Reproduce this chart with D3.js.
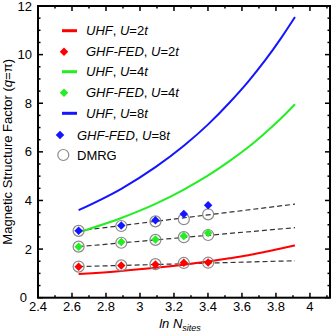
<!DOCTYPE html>
<html>
<head>
<meta charset="utf-8">
<script src="https://cdn.jsdelivr.net/npm/d3@7"></script>
<style>
  body { margin: 0; background: #fff; }
  svg { display: block; font-family: Arial, "Liberation Sans", sans-serif; }
  .tick-label { font-size: 13px; }
</style>
</head>
<body>
<svg id="chart" width="332" height="336"></svg>
<script>
// ln N_sites for the UHF curves (N = 14 ... 50)
const lnN = [2.639, 2.890, 3.091, 3.258, 3.401, 3.526, 3.638, 3.738, 3.829, 3.912]
const uhfU2 = [0.97, 1.10, 1.23, 1.36, 1.49, 1.62, 1.75, 1.89, 2.02, 2.15]
const uhfU4 = [2.69, 3.28, 3.86, 4.45, 5.03, 5.62, 6.20, 6.79, 7.37, 7.96]
const uhfU8 = [3.60, 4.48, 5.37, 6.25, 7.13, 8.02, 8.90, 9.78, 10.67, 11.55]

// ln N_sites for the GHF-FED / DMRG points (N = 14, 18, 22, 26, 30)
const lnNpts = [2.639, 2.890, 3.091, 3.258, 3.401]
const ghfU2 = [1.27, 1.32, 1.37, 1.44, 1.45]
const ghfU4 = [2.10, 2.29, 2.39, 2.54, 2.66]
const ghfU8 = [2.75, 2.97, 3.19, 3.44, 3.80]
const dmrgU2 = [1.28, 1.33, 1.38, 1.43, 1.44]
const dmrgU4 = [2.10, 2.26, 2.38, 2.49, 2.58]
const dmrgU8 = [2.75, 2.95, 3.14, 3.23, 3.43]

// dashed extrapolation lines: [start, end] in x and y
const fitX = [2.639, 3.912]
const fitU2 = [1.28, 1.52]
const fitU4 = [2.10, 2.88]
const fitU8 = [2.75, 3.85]

const xTicks = [2.4, 2.6, 2.8, 3, 3.2, 3.4, 3.6, 3.8, 4]
const yTicks = [0, 2, 4, 6, 8, 10, 12]

const RED = '#ff0000'
const GREEN = '#22ee22'
const BLUE = '#1515ff'

const svg = d3.select('#chart')
const L = 38, T = 6, R = 330, B = 297.7

const x = d3.scaleLinear().domain([2.4, 4.118]).range([L, R])
const y = d3.scaleLinear().domain([0, 12]).range([B, T])

// minor + major ticks on all four sides, pointing inward
const g = svg.append('g')
const xMinor = d3.range(2.5, 4.11, 0.1).filter(v => Math.abs(v * 5 - Math.round(v * 5)) > 1e-6)
const yMinor = d3.range(0.5, 12, 0.5).filter(v => v % 2 !== 0)

function tickLines (vals, len, horiz) {
  vals.forEach(v => {
    if (horiz) {
      g.append('line').attr('x1', x(v)).attr('x2', x(v)).attr('y1', B).attr('y2', B - len)
        .attr('stroke', '#000').attr('stroke-width', 1.5)
      g.append('line').attr('x1', x(v)).attr('x2', x(v)).attr('y1', T).attr('y2', T + len)
        .attr('stroke', '#000').attr('stroke-width', 1.5)
    } else {
      g.append('line').attr('y1', y(v)).attr('y2', y(v)).attr('x1', L).attr('x2', L + len)
        .attr('stroke', '#000').attr('stroke-width', 1.5)
      g.append('line').attr('y1', y(v)).attr('y2', y(v)).attr('x1', R).attr('x2', R - len)
        .attr('stroke', '#000').attr('stroke-width', 1.5)
    }
  })
}
tickLines(xTicks, 5, true)
tickLines(xMinor, 2.5, true)
tickLines(yTicks, 5, false)
tickLines(yMinor, 2.5, false)

svg.selectAll('text.xt').data(xTicks).enter().append('text')
  .attr('class', 'tick-label').attr('x', d => x(d)).attr('y', B + 13)
  .attr('text-anchor', 'middle').text(d => d)
// the "0" sits a little further left so it clears the "2.4" below it
svg.selectAll('text.yt').data(yTicks).enter().append('text')
  .attr('class', 'tick-label').attr('x', d => d === 0 ? L - 11 : L - 6).attr('y', d => y(d) + 4.5)
  .attr('text-anchor', 'end').text(d => d)

// axis titles
const xl = svg.append('text').attr('x', 180).attr('y', 328)
  .attr('text-anchor', 'middle').style('font-size', '13px').style('font-style', 'italic')
xl.append('tspan').text('ln N')
xl.append('tspan').attr('dy', 3).style('font-size', '9px').text('sites')

const yl = svg.append('text').attr('transform', `translate(12,${(T + B) / 2}) rotate(-90)`)
  .attr('text-anchor', 'middle').style('font-size', '13px')
yl.append('tspan').text('Magnetic  Structure Factor (')
yl.append('tspan').style('font-style', 'italic').text('q')
yl.append('tspan').text('=π)')

// plot contents
const line = d3.line().x(d => x(d[0])).y(d => y(d[1])).curve(d3.curveMonotoneX)
const plot = svg.append('g')

;[fitU2, fitU4, fitU8].forEach(f => {
  plot.append('path').attr('d', d3.line().x(d => x(d[0])).y(d => y(d[1]))(d3.zip(fitX, f)))
    .attr('fill', 'none').attr('stroke', '#333').attr('stroke-width', 1.2)
    .attr('stroke-dasharray', '5,3')
})

;[[uhfU2, RED], [uhfU4, GREEN], [uhfU8, BLUE]].forEach(([s, c]) => {
  plot.append('path').attr('d', line(d3.zip(lnN, s)))
    .attr('fill', 'none').attr('stroke', c).attr('stroke-width', 2)
})

const diamond = d3.symbol().type(d3.symbolDiamond2).size(46)

function dmrgCircles (sel, data) {
  sel.selectAll(null).data(data).enter().append('circle')
    .attr('cx', d => x(d[0])).attr('cy', d => y(d[1])).attr('r', 5.5)
    .attr('fill', 'none').attr('stroke', '#8a8a8a').attr('stroke-width', 1.2)
}
function diamonds (sel, data, c) {
  sel.selectAll(null).data(data).enter().append('path')
    .attr('d', diamond).attr('transform', d => `translate(${x(d[0])},${y(d[1])})`)
    .attr('fill', c)
}
dmrgCircles(plot.append('g'), d3.zip(lnNpts, dmrgU2).concat(d3.zip(lnNpts, dmrgU4), d3.zip(lnNpts, dmrgU8)))
diamonds(plot.append('g'), d3.zip(lnNpts, ghfU2), RED)
diamonds(plot.append('g'), d3.zip(lnNpts, ghfU4), GREEN)
diamonds(plot.append('g'), d3.zip(lnNpts, ghfU8), BLUE)

// frame
svg.append('rect').attr('x', L).attr('y', T).attr('width', R - L).attr('height', B - T)
  .attr('fill', 'none').attr('stroke', '#000').attr('stroke-width', 2)

// legend
const legend = [
  { kind: 'line', c: RED, name: 'UHF', u: '2', y: 30.7, tx: 86 },
  { kind: 'dia', c: RED, name: 'GHF-FED', u: '2', y: 51.7, tx: 86, mx: 64 },
  { kind: 'line', c: GREEN, name: 'UHF', u: '4', y: 71.7, tx: 86 },
  { kind: 'dia', c: GREEN, name: 'GHF-FED', u: '4', y: 92.7, tx: 86, mx: 64 },
  { kind: 'line', c: BLUE, name: 'UHF', u: '8', y: 113.3, tx: 86 },
  { kind: 'dia', c: BLUE, name: 'GHF-FED', u: '8', y: 135, tx: 77, mx: 60 },
  { kind: 'circ', name: 'DMRG', y: 155, tx: 77, mx: 63.3 }
]
const lg = svg.append('g')
legend.forEach(e => {
  if (e.kind === 'line') {
    lg.append('line').attr('x1', 62).attr('x2', 77).attr('y1', e.y).attr('y2', e.y)
      .attr('stroke', e.c).attr('stroke-width', 3)
  } else if (e.kind === 'dia') {
    lg.append('path').attr('d', diamond).attr('transform', `translate(${e.mx},${e.y})`).attr('fill', e.c)
  } else {
    lg.append('circle').attr('cx', e.mx).attr('cy', e.y).attr('r', 5.5)
      .attr('fill', 'none').attr('stroke', '#8a8a8a').attr('stroke-width', 1.2)
  }
  const t = lg.append('text').attr('x', e.tx).attr('y', e.y + 4.5).style('font-size', '13px')
  if (e.kind === 'circ') {
    t.text(e.name)
  } else {
    t.append('tspan').style('font-style', 'italic').text(e.name)
    t.append('tspan').text(', ')
    t.append('tspan').style('font-style', 'italic').text('U')
    t.append('tspan').text('=' + e.u)
    t.append('tspan').style('font-style', 'italic').text('t')
  }
})
</script>
</body>
</html>
